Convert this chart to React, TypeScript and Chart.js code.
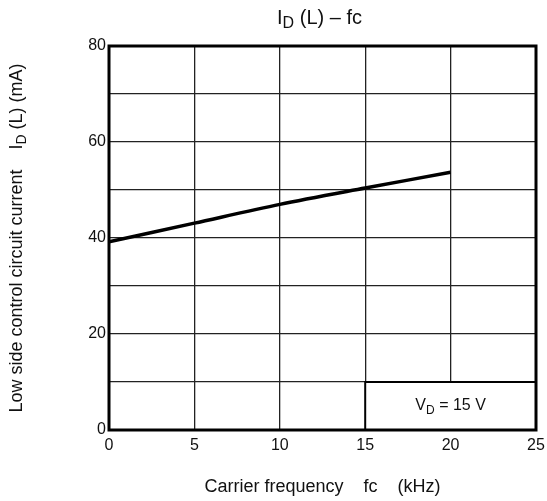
import React, { useEffect, useRef } from "react";
import { Chart, registerables } from "chart.js";

Chart.register(...registerables);

const frequencies = [0, 5, 10, 15, 20];
const currents = [39.2, 43.1, 47.0, 50.4, 53.7];
const xTicks = [0, 5, 10, 15, 20, 25];
const yLabelTicks = [0, 20, 40, 60, 80];

const FONT = "'Liberation Sans', Arial, sans-serif";

type Seg = { t: string; sub?: boolean };

function segWidth(ctx: CanvasRenderingContext2D, segs: Seg[], size: number) {
  let w = 0;
  for (const s of segs) {
    ctx.font = `${s.sub ? Math.round(size * 0.78) : size}px ${FONT}`;
    w += ctx.measureText(s.t).width;
  }
  return w;
}

function drawSegs(ctx: CanvasRenderingContext2D, segs: Seg[], size: number, cx: number, cy: number) {
  const total = segWidth(ctx, segs, size);
  let x = cx - total / 2;
  ctx.textBaseline = "middle";
  ctx.textAlign = "left";
  for (const s of segs) {
    const fs = s.sub ? Math.round(size * 0.78) : size;
    ctx.font = `${fs}px ${FONT}`;
    ctx.fillText(s.t, x, cy + (s.sub ? size * 0.3 : 0));
    x += ctx.measureText(s.t).width;
  }
}

const decorPlugin = {
  id: "decor",
  beforeDatasetsDraw(chart: any) {
    const { ctx, scales } = chart;
    const x0 = scales.x.getPixelForValue(15);
    const x1 = scales.x.getPixelForValue(25);
    const y0 = scales.y.getPixelForValue(10);
    const y1 = scales.y.getPixelForValue(0);
    ctx.save();
    ctx.fillStyle = "#fff";
    ctx.fillRect(x0, y0, x1 - x0, y1 - y0);
    ctx.strokeStyle = "#000";
    ctx.lineWidth = 2;
    ctx.strokeRect(x0, y0, x1 - x0, y1 - y0);
    ctx.fillStyle = "#111";
    drawSegs(ctx, [{ t: "V" }, { t: "D", sub: true }, { t: " = 15 V" }], 16, (x0 + x1) / 2, (y0 + y1) / 2);
    ctx.restore();
  },
  afterDraw(chart: any) {
    const { ctx, chartArea } = chart;
    ctx.save();
    ctx.strokeStyle = "#000";
    ctx.lineWidth = 3;
    ctx.strokeRect(chartArea.left, chartArea.top, chartArea.right - chartArea.left, chartArea.bottom - chartArea.top);
    ctx.fillStyle = "#111";
    const cx = (chartArea.left + chartArea.right) / 2;
    drawSegs(ctx, [{ t: "I" }, { t: "D", sub: true }, { t: " (L) \u2013 fc" }], 20, cx - 3, 18);
    drawSegs(ctx, [{ t: "Carrier frequency    fc    (kHz)" }], 18, cx, 487);
    ctx.translate(17, 238);
    ctx.rotate(-Math.PI / 2);
    drawSegs(ctx, [{ t: "Low side control circuit current    I" }, { t: "D", sub: true }, { t: " (L) (mA)" }], 18, 0, 0);
    ctx.restore();
  },
};

export default function App() {
  const ref = useRef<HTMLCanvasElement>(null);
  useEffect(() => {
    if (!ref.current) return;
    const chart = new Chart(ref.current, {
      type: "line",
      data: {
        datasets: [
          {
            data: frequencies.map((f, i) => ({ x: f, y: currents[i] })),
            borderColor: "#000",
            borderWidth: 3.5,
            pointRadius: 0,
            tension: 0.3,
            fill: false,
          },
        ],
      },
      options: {
        animation: false,
        responsive: true,
        maintainAspectRatio: false,
        layout: { padding: { top: 46, right: 11, left: 0, bottom: 0 } },
        plugins: { legend: { display: false }, title: { display: false }, tooltip: { enabled: false } },
        scales: {
          x: {
            type: "linear",
            min: 0,
            max: 25,
            afterFit: (s: any) => {
              s.height = 71;
              s.paddingLeft = 0;
              s.paddingRight = 0;
            },
            afterBuildTicks: (s: any) => { s.ticks = xTicks.map((v) => ({ value: v })); },
            ticks: { font: { family: FONT, size: 16 }, color: "#111", padding: 6, autoSkip: false, maxRotation: 0 },
            grid: { color: "#222", lineWidth: 1.3, drawTicks: false },
            border: { display: false },
          },
          y: {
            min: 0,
            max: 80,
            afterFit: (s: any) => {
              s.width = 109;
              s.paddingTop = 0;
              s.paddingBottom = 0;
            },
            ticks: {
              stepSize: 10,
              autoSkip: false,
              font: { family: FONT, size: 16 },
              color: "#111",
              padding: 3,
              callback: (v: any) => (yLabelTicks.includes(Number(v)) ? String(v) : ""),
            },
            grid: { color: "#222", lineWidth: 1.3, drawTicks: false },
            border: { display: false },
          },
        },
      },
      plugins: [decorPlugin],
    });
    return () => chart.destroy();
  }, []);
  return (
    <div style={{ position: "fixed", left: 0, top: 0, width: 547, height: 501, background: "#fff" }}>
      <canvas ref={ref} />
    </div>
  );
}
